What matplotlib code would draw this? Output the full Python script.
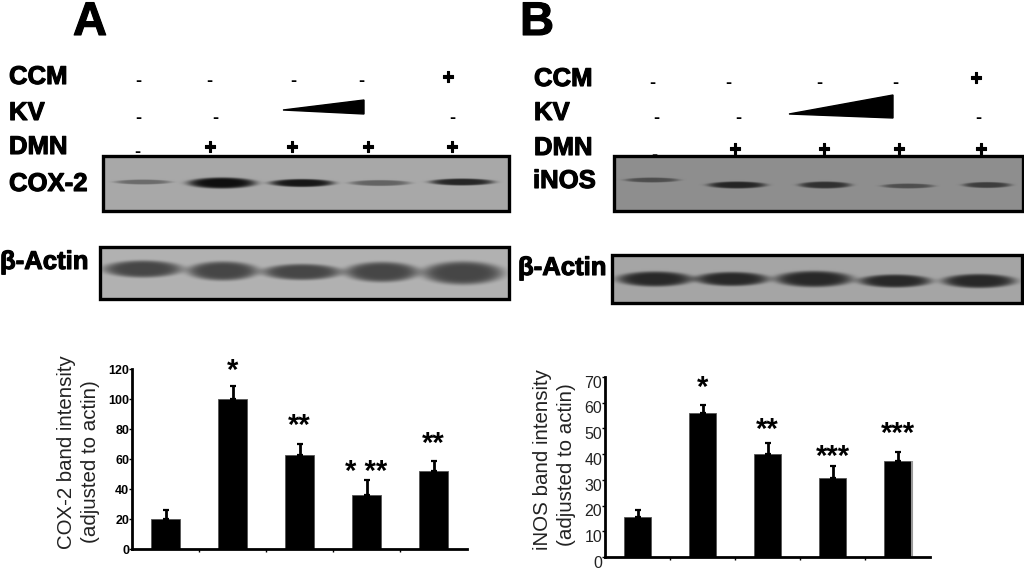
import numpy as np
import matplotlib
matplotlib.use("Agg")
import matplotlib.pyplot as plt
import matplotlib.patheffects as pe
from matplotlib.patches import Polygon, Rectangle
from matplotlib.transforms import ScaledTranslation

FW, FH = 1024, 569

# band intensity values, panel A and B
cox2_mean = [20, 100, 63, 36, 52]
cox2_err = [6, 9, 7, 10, 7]
cox2_stars = ["", "*", "**", "* **", "**"]
cox2_star_y = [0, 119, 82, 51, 70]
cox2_ticks = [0, 20, 40, 60, 80, 100, 120]

inos_mean = [15.6, 55.9, 40, 30.6, 37.3]
inos_err = [2.6, 3.3, 4.5, 4.8, 3.7]
inos_stars = ["", "*", "**", "***", "***"]
inos_star_y = [0, 65.7, 49.4, 38.9, 47.8]
inos_ticks = [0, 10, 20, 30, 40, 50, 60, 70]

# blot bands in reference pixels: centre x, centre y, width, height, darkness 0-1
cox2_bands = [(143, 182, 56, 5, .4), (222, 183, 68, 11, 1), (302, 183, 64, 8, .95),
              (380, 183, 60, 6, .45), (462, 182, 64, 7, .85)]
actin_a_bands = [(143, 269, 78, 17, 1), (223, 271, 70, 19, 1), (302, 272, 78, 16, 1),
                 (382, 272, 73, 20, 1), (463, 273, 80, 23, 1)]
inos_bands = [(652, 180, 54, 5, .55), (737, 185, 58, 7, .9), (825, 185, 52, 7, .8),
              (908, 186, 52, 5, .55), (987, 185, 48, 6, .7)]
actin_b_bands = [(655, 279, 75, 15, 1), (732, 279, 73, 14, 1), (814, 279, 77, 16, 1),
                 (895, 281, 72, 13, 1), (979, 281, 73, 14, 1)]

plt.rcParams["font.family"] = ["Liberation Sans", "DejaVu Sans"]
heavy = [pe.withStroke(linewidth=.8, foreground="black")]


def px_axes(fig, left, right, top, bottom):
    return fig.add_axes([left / FW, 1 - bottom / FH, (right - left) / FW, (bottom - top) / FH])


def draw_blot(ax, x0, x1, y0, y1, bg, dark, bands):
    xs, ys = np.meshgrid(np.arange(x0, x1) + .5, np.arange(y0, y1) + .5)
    img = np.full(xs.shape, float(bg))
    for cx, cy, w, h, s in bands:
        d = (((xs - cx) / (w / 2)) ** 2 + ((ys - cy) / (h / 2)) ** 2) ** 3
        img -= s * (bg - dark) * np.exp(-d)
    ax.imshow(img, extent=(x0, x1, y1, y0), cmap="gray", vmin=0, vmax=255,
              aspect="auto", interpolation="bilinear")
    ax.add_patch(Rectangle((x0, y0), x1 - x0, y1 - y0, fill=False, ec="black", lw=2.4))


def draw_bars(ax, mean, err, stars, star_y, ticks, ymax, width):
    x = np.arange(len(mean))
    ax.bar(x, mean, width=width, color="black", edgecolor="#555555", linewidth=.6)
    ax.errorbar(x, mean, yerr=[np.zeros(len(err)), err], fmt="none", ecolor="black",
                elinewidth=2, capsize=2, capthick=1.6)
    for i, s in enumerate(stars):
        if s:
            ax.text(i, star_y[i], s, ha="center", va="center", fontsize=21,
                    fontweight="bold", color="black")
    ax.set_xlim(-.5, len(mean) - .5)
    ax.set_ylim(0, ymax)
    ax.set_xticks(x[:-1] + .5)
    ax.set_xticklabels([])
    ax.set_yticks(ticks)
    ax.spines["top"].set_visible(False)
    ax.spines["right"].set_visible(False)
    ax.spines["left"].set_linewidth(2)
    ax.spines["bottom"].set_linewidth(2)
    ax.tick_params(axis="both", length=2, width=1, pad=0)
    ax.patch.set_alpha(0)


fig = plt.figure(figsize=(FW / 100, FH / 100), dpi=100, facecolor="white")
bg = fig.add_axes([0, 0, 1, 1])

draw_blot(bg, 103, 509, 156, 211, 168, 15, cox2_bands)
draw_blot(bg, 100, 509, 247, 299, 178, 70, actin_a_bands)
draw_blot(bg, 614, 1023, 156, 211, 142, 25, inos_bands)
draw_blot(bg, 612, 1022, 255, 303, 165, 40, actin_b_bands)

bg.set_xlim(0, FW)
bg.set_ylim(FH, 0)
bg.axis("off")

# panel letters and row labels
bg.text(90, 35, "A", fontsize=34, fontweight="bold", ha="center", va="baseline", path_effects=heavy)
bg.text(537, 35, "B", fontsize=34, fontweight="bold", ha="center", va="baseline", path_effects=heavy)
for s, x, y in [("CCM", 9, 77), ("KV", 9, 113), ("DMN", 9, 147), ("COX-2", 9, 184), ("β-Actin", 0, 262),
                ("CCM", 534, 79), ("KV", 534, 113), ("DMN", 534, 148), ("iNOS", 533, 181), ("β-Actin", 518, 268)]:
    bg.text(x, y, s, fontsize=18.5, fontweight="bold", ha="left", va="center", path_effects=heavy)

# treatment signs
for x, y in [(138, 81), (209, 81), (293, 81), (361, 81), (138, 118), (215, 118), (452, 118), (137, 152),
             (652, 83), (728, 83), (819, 83), (895, 83), (656, 118), (738, 118), (978, 118), (654, 155)]:
    bg.text(x, y, "-", fontsize=13, fontweight="bold", ha="center", va="center")
for x, y in [(448, 78), (210, 148), (292, 148), (368, 148), (452, 148),
             (976, 79), (735, 150), (824, 150), (899, 150), (981, 150)]:
    bg.text(x, y, "+", fontsize=15, fontweight="bold", ha="center", va="center", path_effects=heavy)

# KV dose wedges
bg.add_patch(Polygon([(283, 110), (364, 100), (364, 114)], color="black"))
bg.add_patch(Polygon([(789, 114), (893, 95), (893, 118)], color="black"))

# y axis titles
for s, x, y, fs in [("COX-2 band intensity", 67, 452, 14.7), ("(adjusted to actin)", 90, 462, 14.8),
                    ("iNOS band intensity", 542, 460, 14.8), ("(adjusted to actin)", 567, 465, 14.8)]:
    bg.text(x, y, s, fontsize=fs, rotation=90, ha="center", va="center", color="#222222")

ax_a = px_axes(fig, 132, 467, 369, 549)
draw_bars(ax_a, cox2_mean, cox2_err, cox2_stars, cox2_star_y, cox2_ticks, 120, .42)
for lab in ax_a.get_yticklabels():
    lab.set_fontsize(9)
    lab.set_fontweight("bold")

ax_b = px_axes(fig, 605, 930, 377, 557)
draw_bars(ax_b, inos_mean, inos_err, inos_stars, inos_star_y, inos_ticks, 70, .43)
# grey edge down the right of the last bar
ax_b.vlines(4 + .43 / 2 + .01, 0, inos_mean[-1], color="#999999", lw=1.5)
shift = ScaledTranslation(0, -4.7 / 100, fig.dpi_scale_trans)
for lab in ax_b.get_yticklabels():
    lab.set_fontsize(11.5)
    lab.set_color("#222222")
    lab.set_transform(lab.get_transform() + shift)

fig.savefig("out.png", dpi=100)
